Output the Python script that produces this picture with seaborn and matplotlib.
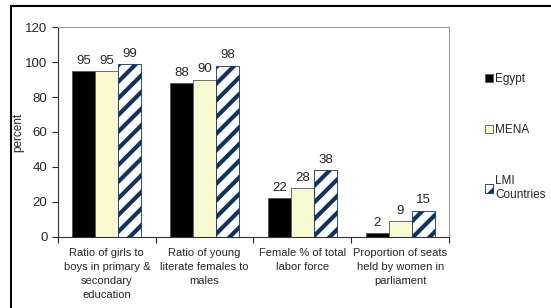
import pandas as pd
import seaborn as sns
import matplotlib.pyplot as plt
from matplotlib.patches import Rectangle

# ================================
# Datos
# ================================
categories = [
    "Ratio of girls to\nboys in primary &\nsecondary\neducation",
    "Ratio of young\nliterate females to\nmales",
    "Female % of total\nlabor force",
    "Proportion of seats\nheld by women in\nparliament",
]
egypt = [95, 88, 22, 2]
mena = [95, 90, 28, 9]
lmi = [99, 98, 38, 15]
series = ["Egypt", "MENA", "LMI Countries"]
legend_labels = ["Egypt", "MENA", "LMI\nCountries"]

df = pd.DataFrame({
    "cat": categories * 3,
    "serie": [s for s in series for _ in categories],
    "valor": egypt + mena + lmi,
})

sns.set_style("white")
plt.rcParams["font.family"] = ["Liberation Sans", "DejaVu Sans"]
plt.rcParams["hatch.linewidth"] = 3.0

fig = plt.figure(figsize=(5.51, 3.08), dpi=100)
ax = fig.add_axes([0.105, 0.231, 0.71, 0.681])

colores = ["#000000", "#FFFFCC", "#FFFFFF"]
sns.barplot(data=df, x="cat", y="valor", hue="serie", order=categories,
            hue_order=series, palette=colores, width=0.705, ax=ax,
            edgecolor="#555555", linewidth=0.6, legend=False)

# barras rayadas para LMI
for p in ax.containers[2]:
    p.set_hatch("//")
    p.set_edgecolor("#0F3360")

for cont in ax.containers:
    ax.bar_label(cont, padding=3, fontsize=9.5)

ax.set_ylim(0, 120)
ax.set_yticks(range(0, 121, 20))
ax.set_xlim(-0.5, 3.5)
ax.set_xlabel("")
ax.set_ylabel("percent", fontsize=8.5, labelpad=1)
ax.tick_params(axis="y", labelsize=9.5, length=4, direction="out", left=True, width=0.8)
ax.tick_params(axis="x", labelsize=8, length=0, pad=8)
for t in ax.get_xticklabels():
    t.set_linespacing(1.5)
ax.set_xticks([-0.5, 0.5, 1.5, 2.5, 3.5], minor=True)
ax.tick_params(axis="x", which="minor", length=4, bottom=True, direction="out", width=0.8)

for lado in ["top", "right"]:
    ax.spines[lado].set_color("#999999")
    ax.spines[lado].set_linewidth(0.8)
for lado in ["left", "bottom"]:
    ax.spines[lado].set_color("#333333")
    ax.spines[lado].set_linewidth(0.8)

ax.legend(ax.containers, legend_labels, loc="upper left",
          bbox_to_anchor=(1.065, 0.83), frameon=False, fontsize=8.5,
          handlelength=0.7, handleheight=0.7, handletextpad=0.15,
          labelspacing=3.3)

# marco exterior
fig.patches.append(Rectangle((11 / 551, -0.1), 1.2, 1.1 - 6 / 308,
                             transform=fig.transFigure, fill=False,
                             edgecolor="black", linewidth=1.5))

fig.savefig("out.png", dpi=100)
